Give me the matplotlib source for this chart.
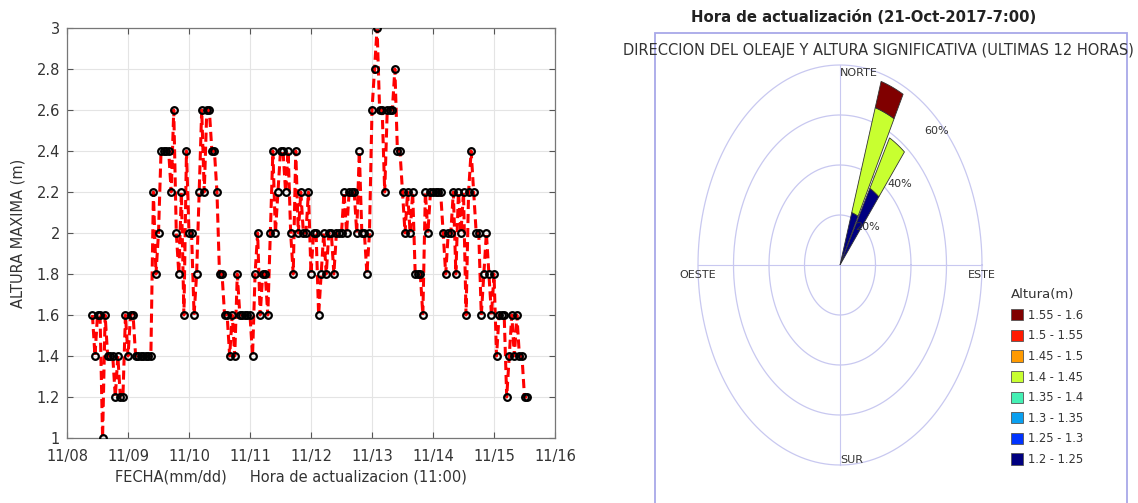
import numpy as np
import matplotlib
matplotlib.use('Agg')
import matplotlib.pyplot as plt
import matplotlib.dates as mdates
from matplotlib.patches import Polygon, Rectangle, Patch
import datetime as dt

# ---------------- data ----------------
inicio = dt.datetime(2017, 11, 8, 10, 0)
altura_maxima = [
    1.6, 1.4, 1.6, 1.6, 1.0, 1.6, 1.4, 1.4, 1.4, 1.2, 1.4, 1.2, 1.2, 1.6, 1.4, 1.6, 1.6, 1.4,
    1.4, 1.4, 1.4, 1.4, 1.4, 1.4,
    2.2, 1.8, 2.0, 2.4, 2.4, 2.4, 2.4, 2.2, 2.6, 2.0, 1.8, 2.2, 1.6, 2.4, 2.0,
    2.0, 1.6, 1.8, 2.2, 2.6, 2.2, 2.6, 2.6, 2.4, 2.4, 2.2, 1.8, 1.8, 1.6, 1.6, 1.4, 1.6, 1.4, 1.8, 1.6,
    1.6, 1.6, 1.6, 1.6, 1.4, 1.8, 2.0, 1.6, 1.8, 1.8, 1.6, 2.0, 2.4, 2.0, 2.2, 2.4, 2.4, 2.2, 2.4, 2.0,
    1.8, 2.4, 2.0, 2.2, 2.0, 2.0, 2.2, 1.8, 2.0, 2.0, 1.6, 1.8, 2.0, 1.8, 2.0, 2.0, 1.8, 2.0, 2.0, 2.0,
    2.2, 2.0, 2.2, 2.2, 2.2, 2.0, 2.4, 2.0, 2.0, 1.8, 2.0, 2.6, 2.8, 3.0, 2.6, 2.6, 2.2, 2.6, 2.6, 2.6,
    2.8, 2.4, 2.4, 2.2, 2.0, 2.2, 2.0, 2.2, 1.8, 1.8, 1.8, 1.6, 2.2, 2.0, 2.2, 2.2, 2.2, 2.2, 2.2, 2.0,
    1.8, 2.0, 2.0, 2.2, 1.8, 2.2, 2.0, 2.2, 1.6, 2.2, 2.4, 2.2, 2.0, 2.0, 1.6, 1.8, 2.0, 1.8, 1.6, 1.8,
    1.4, 1.6, 1.6, 1.6, 1.2, 1.4, 1.6, 1.4, 1.6, 1.4, 1.4, 1.2, 1.2,
]
fechas = [inicio + dt.timedelta(hours=i) for i in range(len(altura_maxima))]
xticks_fechas = [dt.datetime(2017, 11, d) for d in range(8, 17)]
yticks_vals = [1.0, 1.2, 1.4, 1.6, 1.8, 2.0, 2.2, 2.4, 2.6, 2.8, 3.0]

# wave rose
rose_dir = [22.5, 33.75]                      # deg, clockwise from north
rose_cum = [[22, 66, 77], [35, 58]]           # cumulative radius per segment
rose_cls = [[0, 4, 7], [0, 4]]                # height class of each segment
rings = [20, 40, 60, 80]
ring_labels = ['20%', '40%', '60%']
clases = ['1.2 - 1.25', '1.25 - 1.3', '1.3 - 1.35', '1.35 - 1.4',
          '1.4 - 1.45', '1.45 - 1.5', '1.5 - 1.55', '1.55 - 1.6']
colores = ['#000080', '#0033ff', '#0aa0f0', '#44f0b4',
           '#c8ff30', '#ff9a00', '#ff1a00', '#800000']

# ---------------- figure ----------------
W, H = 1138, 503
fig = plt.figure(figsize=(W / 100, H / 100), dpi=100)
txtc = '#333333'

def fx(px):
    return px / W

def fy(py):
    return 1 - py / H

ax = fig.add_axes([fx(67), fy(438), fx(555 - 67), (438 - 28) / H])
ax.plot(fechas, altura_maxima, color='red', ls='--', lw=2.2, dashes=(3, 1.6), zorder=2)
ax.plot(fechas, altura_maxima, ls='none', marker='o', ms=4.8, mfc='none', mec='black', mew=1.6, zorder=3)
ax.set_xlim(xticks_fechas[0], xticks_fechas[-1])
ax.set_ylim(1, 3)
ax.set_xticks(xticks_fechas)
ax.xaxis.set_major_formatter(mdates.DateFormatter('%m/%d'))
ax.set_yticks(yticks_vals)
ax.set_yticklabels(['%g' % v for v in yticks_vals])
ax.grid(True, color='#e4e4e4', lw=0.8)
ax.set_axisbelow(True)
ax.tick_params(direction='in', top=True, right=True, length=4, width=0.8, colors='#555555',
               labelcolor=txtc, labelsize=10.5)
ax.tick_params(axis='x', pad=8)
ax.tick_params(axis='y', pad=5)
for s in ax.spines.values():
    s.set_color('#777777')
    s.set_linewidth(0.9)
ax.set_ylabel('ALTURA MAXIMA (m)', fontsize=10.5, color=txtc, labelpad=8)
ax.set_xlabel('FECHA(mm/dd)     Hora de actualizacion (11:00)', fontsize=10.5, color=txtc,
              x=(291 - 67) / (555 - 67), labelpad=4)

# ---------------- right panel ----------------
fig.text(fx(864), fy(18), 'Hora de actualización (21-Oct-2017-7:00)', ha='center', va='center',
         fontsize=10.7, fontweight='bold', color='#222222')
fig.patches.append(Rectangle((fx(655), fy(510)), fx(1127 - 655), (510 - 33) / H,
                             transform=fig.transFigure, fill=False, edgecolor='#a8a8e8', lw=1.3))
fig.text(fx(878), fy(50), 'DIRECCION DEL OLEAJE Y ALTURA SIGNIFICATIVA (ULTIMAS 12 HORAS)',
         ha='center', va='center', fontsize=10.5, color=txtc)

cx, cy, ry, kx = 840, 265, 200, 0.71
rx = ry * kx
ax2 = fig.add_axes([fx(cx - rx), fy(cy + ry), fx(2 * rx), 2 * ry / H])
ax2.set_xlim(-80, 80)
ax2.set_ylim(-80, 80)
ax2.axis('off')
th = np.linspace(0, 2 * np.pi, 361)
for r in rings:
    ax2.plot(r * np.cos(th), r * np.sin(th), color='#c8c8f0', lw=0.9, clip_on=False)
ax2.plot([0, 0], [-rings[-1], rings[-1]], color='#c8c8f0', lw=0.8, clip_on=False)
ax2.plot([-rings[-1], rings[-1]], [0, 0], color='#c8c8f0', lw=0.8, clip_on=False)

w = 10.0
for d, cum, cl in zip(rose_dir, rose_cum, rose_cls):
    r0 = 0
    for r1, c in zip(cum, cl):
        a = np.radians(np.linspace(d - w / 2, d + w / 2, 20))
        outer = np.column_stack([r1 * np.sin(a), r1 * np.cos(a)])
        inner = np.column_stack([r0 * np.sin(a[::-1]), r0 * np.cos(a[::-1])])
        ax2.add_patch(Polygon(np.vstack([outer, inner]), closed=True, facecolor=colores[c],
                              edgecolor='#333333', lw=0.6, zorder=3, clip_on=False))
        r0 = r1

for k, (r, lab) in enumerate(zip(rings[:3], ring_labels)):
    a = np.radians(45 + 1.5 * k)
    rr = r * (1.08 + 0.09 * k)
    ax2.text(rr * np.sin(a) - 1.5 * (k == 2), rr * np.cos(a) + 3 * (k == 2), lab, fontsize=8,
             color=txtc, zorder=4, ha='center', va='center')
ax2.text(0, 75, 'NORTE', fontsize=8, color=txtc, ha='left', va='bottom')
ax2.text(0, -76, 'SUR', fontsize=8, color=txtc, ha='left', va='top')
ax2.text(80, -2, 'ESTE', fontsize=8, color=txtc, ha='center', va='top')
ax2.text(-80, -2, 'OESTE', fontsize=8, color=txtc, ha='center', va='top')

handles = [Patch(facecolor=c, edgecolor='#555555', lw=0.6, label=l)
           for c, l in zip(colores[::-1], clases[::-1])]
leg = fig.legend(handles=handles, title='Altura(m)', loc='upper left',
                 bbox_to_anchor=(fx(1003), fy(280)), frameon=False, fontsize=8.3,
                 title_fontsize=9.5, handlelength=1.05, handleheight=1.1,
                 labelspacing=0.66, handletextpad=0.4, borderpad=0.2, alignment='left')
for t in leg.get_texts():
    t.set_color(txtc)
leg.get_title().set_color(txtc)

fig.savefig('out.png', dpi=100)
